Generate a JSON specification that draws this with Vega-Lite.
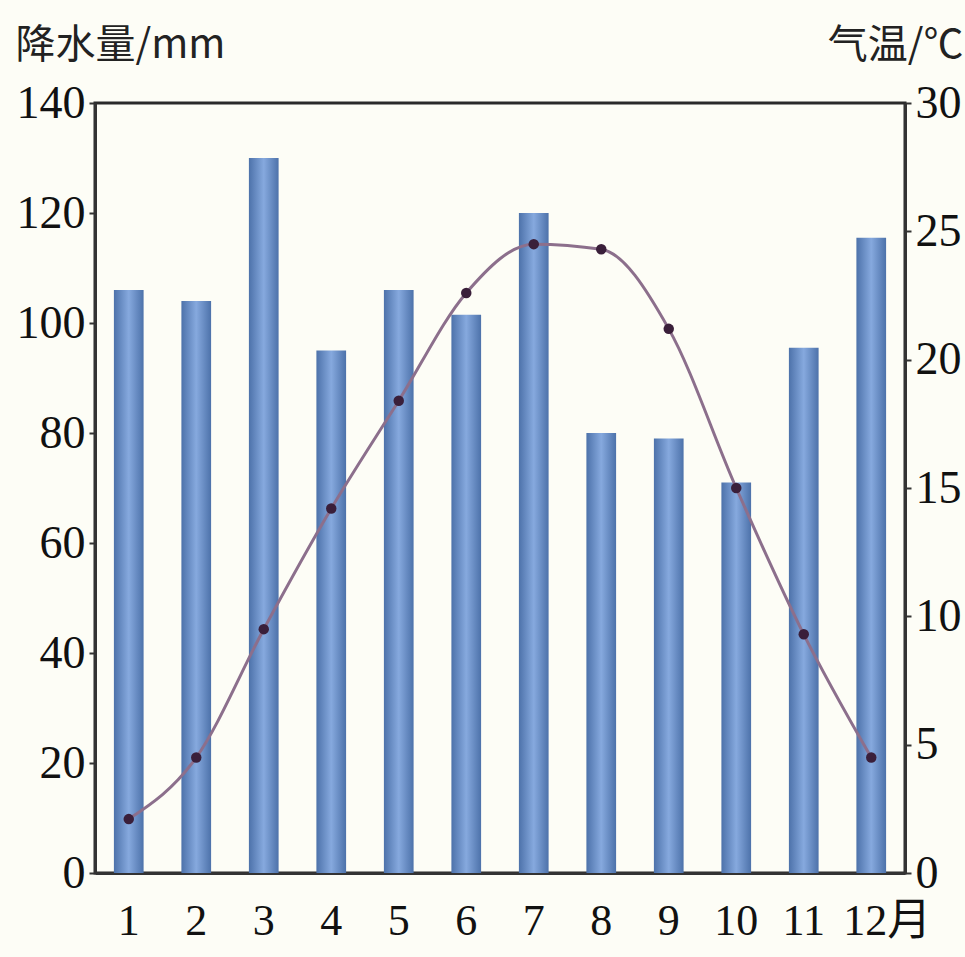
{
  "$schema": "https://vega.github.io/schema/vega-lite/v6.json",
  "autosize": {"type": "none"},
  "width": 810,
  "height": 770,
  "padding": {"left": 95, "top": 103, "right": 60, "bottom": 84},
  "background": "#fdfdf6",
  "config": {
    "view": {"stroke": "#2a2a2a", "strokeWidth": 3},
    "axis": {"labelFont": "Liberation Serif", "labelFontSize": 46, "labelColor": "#111", "domainColor": "#333", "domainWidth": 3, "tickColor": "#333", "tickWidth": 2, "grid": false}
  },
  "data": {"values": [
    {"month": "1", "precip": 106, "temp": 2.1},
    {"month": "2", "precip": 104, "temp": 4.5},
    {"month": "3", "precip": 130, "temp": 9.5},
    {"month": "4", "precip": 95, "temp": 14.2},
    {"month": "5", "precip": 106, "temp": 18.4},
    {"month": "6", "precip": 101.5, "temp": 22.6},
    {"month": "7", "precip": 120, "temp": 24.5},
    {"month": "8", "precip": 80, "temp": 24.3},
    {"month": "9", "precip": 79, "temp": 21.2},
    {"month": "10", "precip": 71, "temp": 15.0},
    {"month": "11", "precip": 95.5, "temp": 9.3},
    {"month": "12", "precip": 115.5, "temp": 4.5}
  ]},
  "encoding": {
    "x": {"field": "month", "type": "ordinal", "sort": null,
      "scale": {"paddingInner": 0.56, "paddingOuter": 0.28},
      "axis": {"title": null, "labelAngle": 0, "ticks": false, "labelPadding": 26,
        "labelExpr": "datum.value == '12' ? '12月' : datum.value",
        "labelOffset": {"expr": "datum.value == '12' ? 16 : 0"},
        "labelFontSize": 44, "labelFont": "Liberation Serif, Noto Sans CJK SC"}}
  },
  "layer": [
    {
      "mark": {"type": "bar", "fill": {"gradient": "linear", "x1": 0, "x2": 1, "y1": 0, "y2": 0,
        "stops": [{"offset": 0, "color": "#4d72aa"}, {"offset": 0.5, "color": "#86a9de"}, {"offset": 1, "color": "#4d72aa"}]}},
      "encoding": {
        "y": {"field": "precip", "type": "quantitative",
          "scale": {"domain": [0, 140]},
          "axis": {"values": [0, 20, 40, 60, 80, 100, 120, 140], "tickSize": 6, "labelPadding": 4,
            "title": "降水量/mm", "titleAngle": 0, "titleAlign": "left", "titleBaseline": "middle",
            "titleX": -80, "titleY": -58, "titleFont": "Noto Sans CJK SC", "titleFontSize": 40, "titleFontWeight": "normal", "titleColor": "#222"}}
      }
    },
    {
      "mark": {"type": "line", "interpolate": "monotone", "color": "#8c6f8c", "strokeWidth": 3},
      "encoding": {
        "y": {"field": "temp", "type": "quantitative",
          "scale": {"domain": [0, 30]},
          "axis": {"orient": "right", "values": [0, 5, 10, 15, 20, 25, 30], "tickSize": 6, "labelPadding": 4,
            "title": "气温/℃", "titleAngle": 0, "titleAlign": "right", "titleBaseline": "middle",
            "titleX": 58, "titleY": -58, "titleFont": "Noto Sans CJK SC", "titleFontSize": 40, "titleFontWeight": "normal", "titleColor": "#222"}}
      }
    },
    {
      "mark": {"type": "point", "filled": true, "color": "#3a1f3a", "size": 110, "opacity": 1},
      "encoding": {
        "y": {"field": "temp", "type": "quantitative", "scale": {"domain": [0, 30]}, "axis": null}
      }
    }
  ],
  "resolve": {"scale": {"y": "independent"}}
}
